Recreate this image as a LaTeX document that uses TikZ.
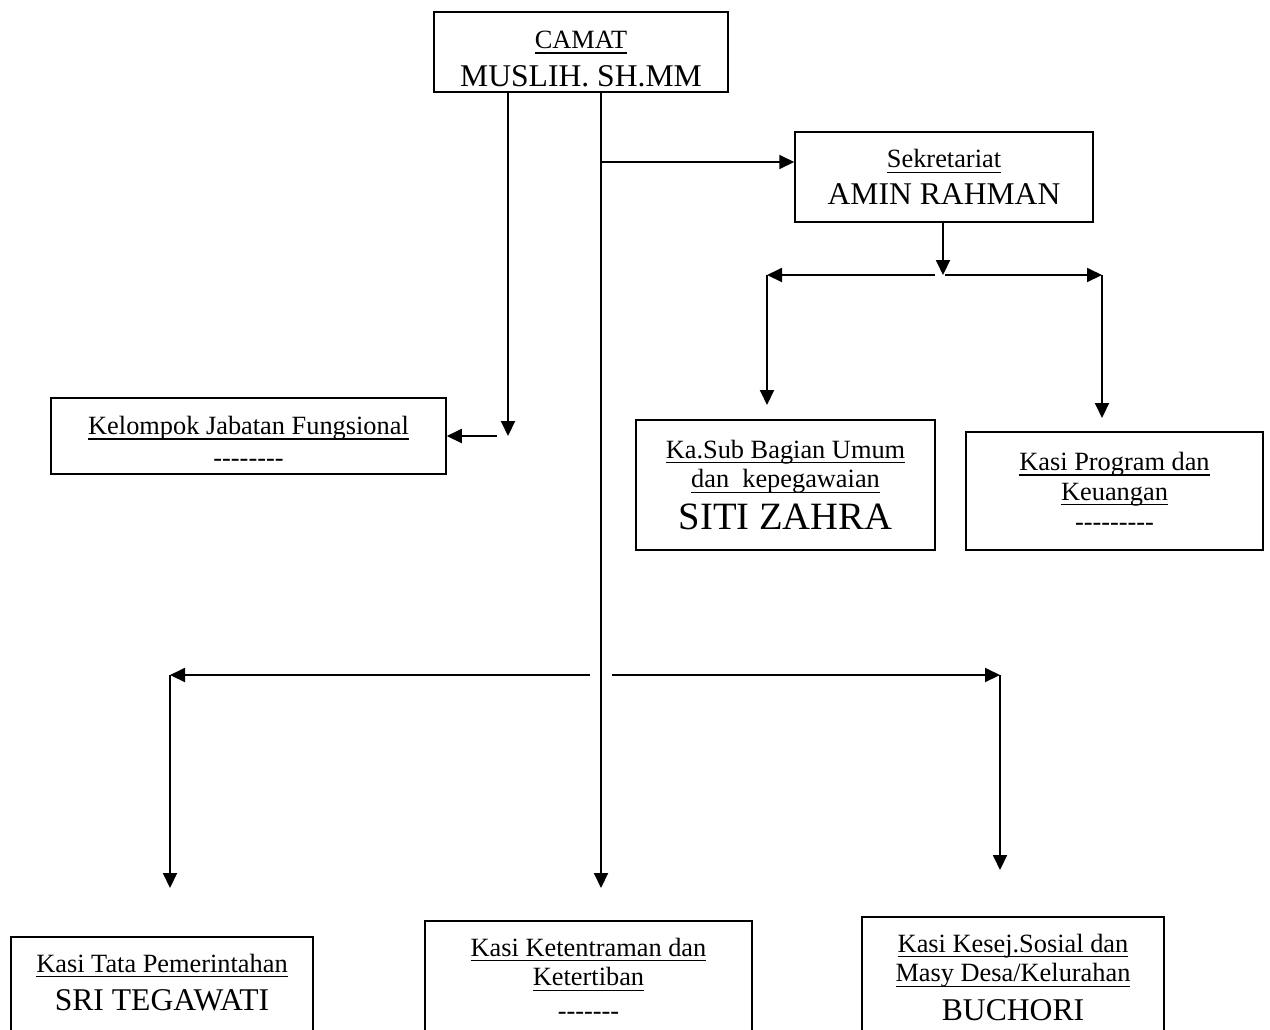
\documentclass[tikz,border=0pt]{standalone}
\usepackage{fontspec}
\setmainfont{Liberation Serif}
\usepackage{tikz}
\usetikzlibrary{positioning, arrows.meta, calc}
\newcommand{\subj}[1]{\setbox0\hbox{#1}\rlap{\rule[-3pt]{\wd0}{0.8pt}}\box0}
\newcommand{\bigname}[1]{{\fontsize{18}{21}\selectfont #1}}
\tikzset{
  box/.style={draw, line width=0.9pt, align=center, inner sep=0pt,
              font=\fontsize{15}{17}\selectfont},
  cutbox/.style={box, anchor=north, inner ysep=0.34cm, text depth=3cm},
  arrow/.style={-{Triangle[length=0.3cm, width=0.28cm]}, line width=1.1pt}
}

\begin{document}
\begin{tikzpicture}[x=0.02cm, y=-0.02cm]
    \useasboundingbox (0,0) rectangle (1270,1029);
    \clip (0,0) rectangle (1270,1029);

    \node[box, minimum width=5.88cm, minimum height=1.6cm] (camat) at (581,52)
        {\rule{0pt}{18pt}\subj{CAMAT}\\[4.6pt]\bigname{MUSLIH. SH.MM}};
    \node[box, minimum width=5.96cm, minimum height=1.8cm] (sekr) at (944,177)
        {\subj{Sekretariat}\\[4pt]\bigname{AMIN RAHMAN}};
    \node[box, minimum width=7.9cm, minimum height=1.52cm] (kelompok) at (248.5,436)
        {\rule{0pt}{16.6pt}\subj{Kelompok Jabatan Fungsional}\\[1.2pt]-{}-{}-{}-{}-{}-{}-{}-};
    \node[box, minimum width=5.98cm, minimum height=2.6cm] (kasubag) at (785.5,485)
        {\subj{Ka.Sub Bagian Umum}\\\subj{dan\ \ kepegawaian}\\[5pt]{\fontsize{22}{24}\selectfont SITI ZAHRA}};
    \node[box, minimum width=5.94cm, minimum height=2.36cm] (program) at (1114.5,491)
        {\subj{Kasi Program dan}\\\subj{Keuangan}\\-{}-{}-{}-{}-{}-{}-{}-{}-};

    % bottom row, cut by the page edge
    \node[cutbox, minimum width=6.04cm] (tata) at (162,936)
        {\subj{Kasi Tata Pemerintahan}\\[5pt]\bigname{SRI TEGAWATI}};
    \node[cutbox, minimum width=6.54cm] (tentram) at (588.5,920)
        {\subj{Kasi Ketentraman dan}\\\subj{Ketertiban}\\[2pt]-{}-{}-{}-{}-{}-{}-};
    \node[cutbox, minimum width=6.04cm] (kesos) at (1013,916)
        {\subj{Kasi Kesej.Sosial dan}\\\subj{Masy Desa/Kelurahan}\\[5pt]\bigname{BUCHORI}};

    \coordinate (fjoin) at (508,436);
    \coordinate (fturn) at (497,436);
    \coordinate (trunk) at (601,888);
    \coordinate (sekjoin) at (601,162);
    \coordinate (sekhub) at (943,275);
    \coordinate (subL) at (767,275);
    \coordinate (subR) at (1102,275);
    \coordinate (bhub) at (601,675);
    \coordinate (bL) at (170,675);
    \coordinate (bR) at (1000,675);

    \draw[arrow] (camat.south -| fjoin) -- (fjoin);
    \draw[arrow] (fturn) -- (kelompok.east |- fturn);
    \draw[arrow] (camat.south -| trunk) -- (trunk);
    \draw[arrow] (sekjoin) -- (sekjoin -| sekr.west);
    \draw[arrow] (sekr.south -| sekhub) -- (sekhub);
    \draw[arrow] ($(sekhub)+(-8,0)$) -- (subL);
    \draw[arrow] ($(sekhub)+(2,0)$) -- (subR);
    \draw[arrow] (subL) -- ++(0,130);
    \draw[arrow] (subR) -- ++(0,143);
    \draw[arrow] ($(bhub)+(-11,0)$) -- (bL);
    \draw[arrow] ($(bhub)+(11,0)$) -- (bR);
    \draw[arrow] (bL) -- ++(0,213);
    \draw[arrow] (bR) -- ++(0,195);
\end{tikzpicture}
\end{document}
